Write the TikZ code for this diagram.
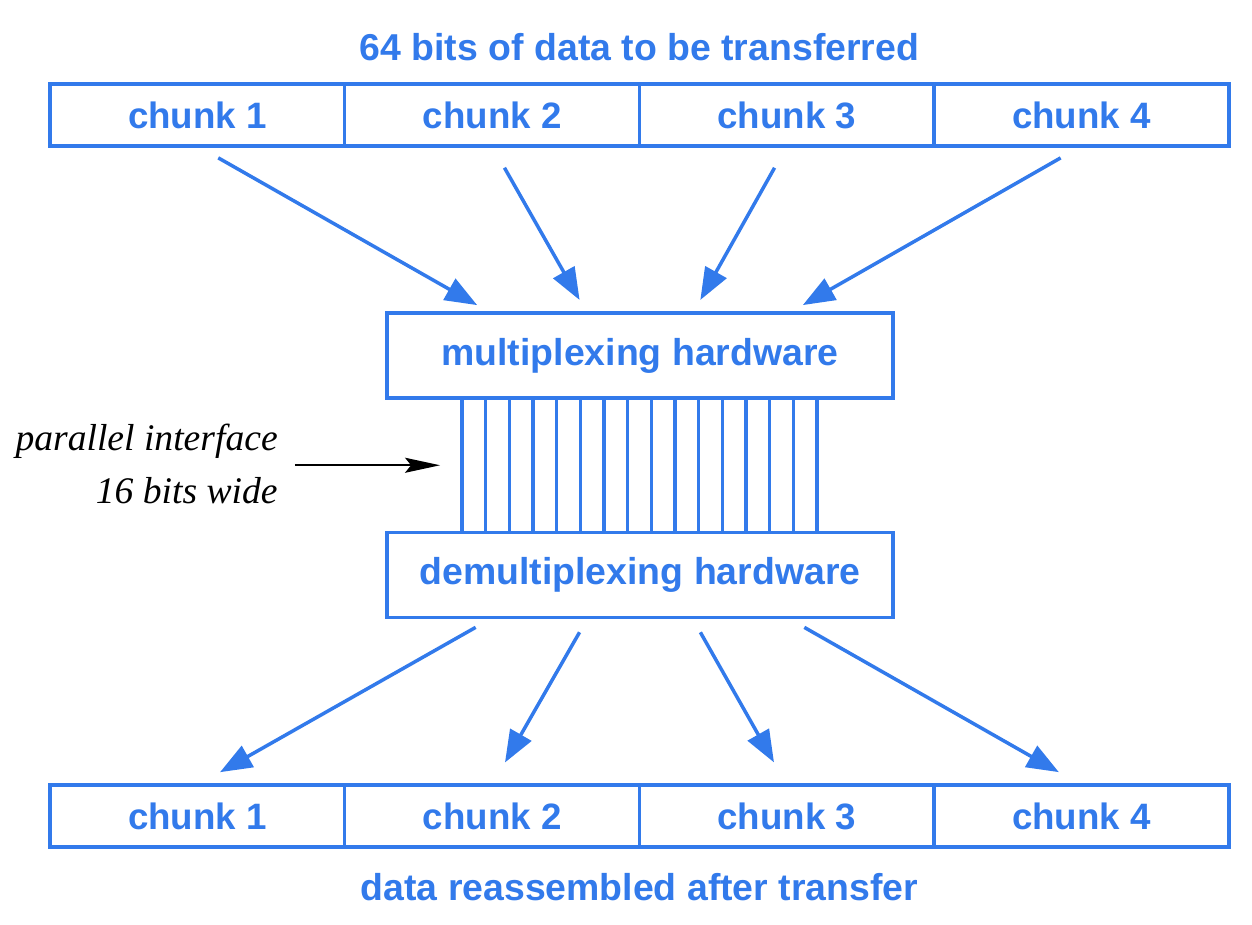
\documentclass[tikz,border=0pt]{standalone}
\usepackage{fontspec}
\setmainfont{Liberation Serif}
\newfontfamily\chunkfont{Liberation Sans}
\usetikzlibrary{arrows.meta,positioning,calc}
\definecolor{wireblue}{RGB}{50,122,235}

\begin{document}
\begin{tikzpicture}[
    x=0.02cm, y=-0.02cm,
    chunk/.style={rectangle, draw=wireblue, line width=0.07cm, minimum width=5.895cm, minimum height=1.24cm, outer sep=0pt, inner sep=0pt, text=wireblue, font=\chunkfont\bfseries\fontsize{20.9}{25}\selectfont},
    hw/.style={chunk, minimum width=10.12cm, minimum height=1.7cm, font=\chunkfont\bfseries\fontsize{21.3}{25}\selectfont},
    caption/.style={text=wireblue, inner sep=0pt, font=\chunkfont\bfseries\fontsize{21.3}{25}\selectfont},
    iface/.style={align=right, inner sep=0pt, font=\itshape\fontsize{21.4}{30}\selectfont},
    flow/.style={-{Triangle[length=0.64cm,width=0.48cm]}, line width=0.07cm, wireblue},
    wire/.style={line width=0.065cm, wireblue},
    pointer/.style={-{Stealth[length=0.7cm,width=0.3cm,inset=0.12cm]}, line width=0.04cm, black},
]
\useasboundingbox (0,0) rectangle (1252,924);
% data before transfer
\node[chunk] (t1) at (197.4,115) {chunk 1};
\node[chunk, right=0pt of t1] (t2) {chunk 2};
\node[chunk, right=0pt of t2] (t3) {chunk 3};
\node[chunk, right=0pt of t3] (t4) {chunk 4};
\node[caption] (toptitle) at ($(t2.north east)+(0,-37)$) {64 bits of data to be transferred};
% hardware
\node[hw] (mux) at (640,355.5) {multiplexing hardware};
\node[hw] (demux) at (640,575) {demultiplexing hardware};
\foreach \i in {0,...,15}
  \draw[wire] ($(mux.south west)+(75+23.67*\i,0)$) -- ($(demux.north west)+(75+23.67*\i,0)$);
\coordinate (w1) at ($(mux.south west)!0.5!(demux.north west)+(75,0)$);
\node[iface, anchor=east] (ifacelbl) at (278,464) {parallel interface\\16 bits wide};
\draw[pointer, shorten <=0.34cm, shorten >=0.44cm] (ifacelbl.east |- w1) -- (w1);
% data after transfer
\node[chunk] (b1) at (197.4,816) {chunk 1};
\node[chunk, right=0pt of b1] (b2) {chunk 2};
\node[chunk, right=0pt of b2] (b3) {chunk 3};
\node[chunk, right=0pt of b3] (b4) {chunk 4};
\node[caption] (bottitle) at ($(b2.south east)+(0,40)$) {data reassembled after transfer};
% connectors
\draw[flow, shorten <=0.48cm, shorten >=0.32cm] (t1.south) -- ($(mux.north west)+(104,0)$);
\draw[flow, shorten <=0.5cm, shorten >=0.3cm] (t2.south) -- ($(mux.north)+(-53,0)$);
\draw[flow, shorten <=0.5cm, shorten >=0.3cm] (t3.south) -- ($(mux.north)+(53,0)$);
\draw[flow, shorten <=0.48cm, shorten >=0.32cm] (t4.south) -- ($(mux.north east)+(-104,0)$);
\draw[flow, shorten <=0.4cm, shorten >=0.52cm] ($(demux.south west)+(106,0)$) -- (b1.north);
\draw[flow, shorten <=0.34cm, shorten >=0.52cm] ($(demux.south)+(-52,0)$) -- (b2.north);
\draw[flow, shorten <=0.34cm, shorten >=0.52cm] ($(demux.south)+(52,0)$) -- (b3.north);
\draw[flow, shorten <=0.4cm, shorten >=0.52cm] ($(demux.south east)+(-106,0)$) -- (b4.north);
\end{tikzpicture}
\end{document}
